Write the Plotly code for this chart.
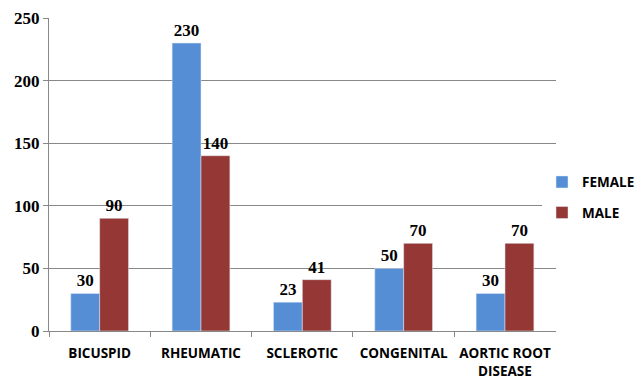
import plotly.graph_objects as go

categories = ["BICUSPID", "RHEUMATIC", "SCLEROTIC", "CONGENITAL", "AORTIC ROOT<br>DISEASE"]
female = [30, 230, 23, 50, 30]
male = [90, 140, 41, 70, 70]
y_ticks = [0, 50, 100, 150, 200, 250]

serif_bold = dict(family="Liberation Serif", size=17, color="black")

fig = go.Figure()
fig.add_trace(go.Bar(
    name="FEMALE", x=categories, y=female, marker_color="#558ED5",
    legendgroup="f",
    text=female, textposition="outside", textfont=serif_bold,
    texttemplate="<b>%{text}</b>", cliponaxis=False,
))
fig.add_trace(go.Bar(
    name="MALE", x=categories, y=male, marker_color="#953735",
    legendgroup="m",
    text=male, textposition="outside", textfont=serif_bold,
    texttemplate="<b>%{text}</b>", cliponaxis=False,
))

fig.update_layout(
    width=640, height=381,
    margin=dict(l=49, r=0, t=18, b=50),
    paper_bgcolor="white", plot_bgcolor="white",
    barmode="group", bargap=0.43, bargroupgap=0,
    showlegend=True,
    legend=dict(
        x=0.842, y=0.525, xanchor="left", yanchor="top",
        font=dict(family="Open Sans", size=13.5, color="black", weight="bold"),
        itemwidth=30, tracegroupgap=10,
    ),
)
fig.update_xaxes(
    domain=[0, 0.8646], automargin=False, tickangle=0,
    showline=True, linecolor="#888888", linewidth=1,
    ticks="outside", ticklen=5, tickcolor="#888888",
    tickson="boundaries", ticklabelstandoff=10,
    tickfont=dict(family="Open Sans", size=13.5, color="black", weight="bold"),
)
fig.update_yaxes(
    range=[0, 250], tickvals=y_ticks, automargin=False,
    showline=True, linecolor="#888888", linewidth=1,
    showgrid=True, gridcolor="#888888", gridwidth=1,
    ticks="outside", ticklen=5, tickcolor="#888888",
    tickfont=dict(family="Liberation Serif", size=17, color="black", weight="bold"),
    zeroline=False,
)

fig.write_html("out.html")
